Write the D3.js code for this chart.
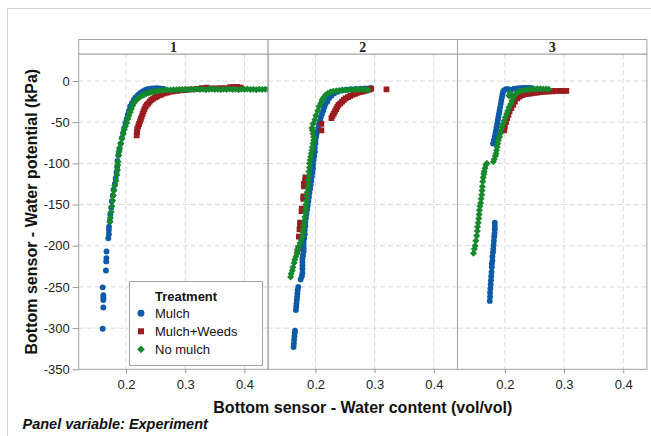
<!DOCTYPE html>
<html><head><meta charset="utf-8">
<script src="https://cdn.jsdelivr.net/npm/d3@7"></script>
<style>body{margin:0;background:#fff}</style>
</head><body>
<svg id="chart" width="651" height="436"></svg>
<script>
// ---------- DATA ----------
const panels = ["1", "2", "3"];
const treatments = ["Mulch", "Mulch+Weeds", "No mulch"];
const yTicks = [0, -50, -100, -150, -200, -250, -300, -350];
const xTicks = [0.2, 0.3, 0.4];
const xTickLabels = ["0.2", "0.3", "0.4"];

// Panel 1
const p1Mulch = [[0.1605,-300.7],[0.1616,-275],[0.1616,-266],[0.1618,-263],[0.1616,-260],[0.1605,-250.5],[0.166,-230],[0.1665,-219],[0.1668,-215],[0.167,-207],[0.170,-191],[0.171,-186],[0.171,-181],[0.1712,-177],[0.1725,-170],[0.1735,-162],[0.175,-154],[0.176,-146],[0.1775,-139],[0.179,-132],[0.181,-125],[0.1825,-118],[0.184,-111],[0.185,-104],[0.1855,-97],[0.187,-90],[0.189,-83],[0.191,-76],[0.193,-69],[0.195,-63],[0.197,-57],[0.199,-51],[0.201,-46],[0.203,-41],[0.205,-36],[0.207,-31],[0.21,-27],[0.213,-23],[0.216,-20],[0.22,-17],[0.224,-14.5],[0.228,-12.5],[0.232,-11],[0.236,-10],[0.24,-9.5],[0.244,-9],[0.248,-9],[0.252,-8.8],[0.256,-9],[0.26,-9.2],[0.264,-9.5]];
const p1Weeds = [[0.218,-66],[0.2185,-62],[0.219,-58],[0.2205,-55],[0.222,-52],[0.2235,-49],[0.225,-46],[0.2265,-43],[0.228,-40],[0.2295,-37],[0.231,-34],[0.233,-31],[0.235,-29],[0.2375,-27],[0.24,-25],[0.243,-23],[0.246,-21.5],[0.249,-20],[0.252,-19],[0.256,-17.5],[0.26,-16.5],[0.265,-15],[0.27,-14],[0.275,-13],[0.28,-12.5],[0.286,-12],[0.292,-11.5],[0.298,-11],[0.305,-10.5],[0.312,-10],[0.32,-9.5],[0.328,-8.5],[0.336,-8],[0.344,-9],[0.352,-8.8],[0.36,-8.5],[0.368,-8.5],[0.376,-7.5],[0.382,-7],[0.388,-7],[0.394,-8]];
const p1NoMulch = [[0.1729,-171],[0.1735,-166],[0.1746,-159],[0.176,-152],[0.1774,-145],[0.1785,-139],[0.1796,-133],[0.181,-127],[0.183,-121],[0.1845,-114],[0.1855,-108],[0.186,-102],[0.1865,-98],[0.1876,-90],[0.188,-86],[0.189,-81],[0.191,-76],[0.193,-70],[0.1953,-64],[0.197,-59],[0.199,-55],[0.201,-51],[0.203,-46],[0.205,-42],[0.207,-38],[0.209,-34],[0.211,-30],[0.213,-27],[0.216,-24],[0.219,-22],[0.222,-20],[0.226,-18],[0.23,-17],[0.234,-15.5],[0.238,-14.5],[0.242,-13.5],[0.246,-13],[0.25,-12.5],[0.255,-12],[0.26,-11.5],[0.265,-11],[0.27,-11],[0.275,-10.8],[0.28,-10.5],[0.285,-10.5],[0.29,-10.3],[0.295,-10.2],[0.3,-10],[0.305,-10.5],[0.31,-10],[0.315,-10.4],[0.32,-9.8],[0.325,-10.3],[0.33,-10],[0.335,-10.6],[0.34,-10],[0.345,-9.6],[0.35,-10.4],[0.355,-10],[0.36,-10.6],[0.365,-10],[0.37,-10.3],[0.375,-9.8],[0.38,-10.4],[0.385,-10],[0.39,-10.6],[0.395,-10.1],[0.4,-10.4],[0.405,-9.8],[0.41,-10.3],[0.415,-10],[0.42,-10.5],[0.425,-10.1],[0.43,-10.4],[0.435,-10],[0.44,-10.3]];

// Panel 2
const p2Mulch = [[0.163,-323],[0.1635,-319],[0.164,-314],[0.1645,-310],[0.165,-306],[0.1655,-303],[0.167,-278],[0.1675,-274],[0.168,-270],[0.1685,-266],[0.169,-262],[0.1695,-258],[0.170,-254],[0.171,-250],[0.175,-241],[0.177,-237],[0.178,-233],[0.178,-228],[0.178,-224],[0.178,-220],[0.178,-216],[0.179,-212],[0.18,-207],[0.18,-203],[0.18,-199],[0.18,-195],[0.181,-191],[0.182,-186],[0.182,-181],[0.183,-176],[0.183,-171],[0.184,-166],[0.185,-161],[0.186,-156],[0.187,-151],[0.188,-146],[0.189,-141],[0.19,-136],[0.191,-131],[0.192,-126],[0.193,-121],[0.194,-116],[0.195,-111],[0.196,-106],[0.196,-101],[0.197,-96],[0.198,-91],[0.199,-86],[0.199,-81],[0.2,-76],[0.2,-72],[0.201,-68],[0.202,-64],[0.204,-60],[0.205,-56],[0.206,-52],[0.208,-48],[0.209,-44],[0.211,-40],[0.213,-36],[0.215,-32],[0.217,-28],[0.22,-25],[0.223,-21],[0.227,-18],[0.232,-15],[0.238,-13],[0.245,-11.5],[0.252,-10.5],[0.26,-10],[0.268,-9.5],[0.276,-9.3],[0.284,-9],[0.29,-9],[0.294,-8.5]];
const p2Weeds = [[0.21,-52],[0.21,-60],[0.183,-117],[0.1825,-121],[0.1805,-125],[0.1805,-128],[0.1795,-140],[0.1795,-143],[0.177,-155],[0.1765,-158],[0.174,-172],[0.174,-176],[0.173,-180],[0.172,-189],[0.171,-203],[0.1695,-207],[0.227,-45],[0.229,-42],[0.231,-39.5],[0.233,-37],[0.235,-34],[0.237,-31.5],[0.239,-29],[0.242,-27],[0.245,-25],[0.248,-23],[0.251,-21],[0.255,-19.5],[0.259,-18],[0.263,-16.5],[0.267,-15.5],[0.271,-14.5],[0.275,-13.5],[0.279,-13],[0.283,-12],[0.287,-11.5],[0.291,-10.5],[0.294,-9.5],[0.32,-10]];
const p2NoMulch = [[0.158,-238],[0.159,-234],[0.161,-230],[0.162,-226],[0.164,-221],[0.165,-217],[0.167,-213],[0.169,-209],[0.17,-205],[0.172,-201],[0.174,-197],[0.176,-193],[0.178,-189],[0.179,-184],[0.179,-180],[0.18,-175],[0.181,-170],[0.182,-165],[0.183,-160],[0.1835,-155],[0.184,-150],[0.185,-145],[0.1855,-140],[0.186,-135],[0.187,-130],[0.188,-125],[0.188,-120],[0.189,-115],[0.189,-110],[0.19,-105],[0.19,-100],[0.191,-96],[0.192,-92],[0.193,-88],[0.194,-84],[0.195,-80],[0.196,-76],[0.197,-72],[0.197,-68],[0.196,-64],[0.195,-60],[0.194,-57],[0.196,-52],[0.199,-47],[0.201,-42],[0.204,-36],[0.206,-31],[0.209,-27],[0.211,-23],[0.214,-20],[0.217,-17],[0.221,-15],[0.225,-13.5],[0.23,-12.5],[0.235,-12],[0.24,-11.5],[0.245,-11],[0.25,-11],[0.255,-10.8],[0.26,-10.5],[0.265,-10.5],[0.27,-10.3],[0.275,-10.3],[0.28,-10],[0.285,-10.5],[0.289,-11]];

// Panel 3
const p3Mulch = [[0.183,-172],[0.183,-176],[0.183,-180],[0.1825,-185],[0.182,-189],[0.1815,-194],[0.181,-199],[0.1805,-204],[0.18,-208],[0.179,-213],[0.179,-218],[0.178,-222],[0.178,-226],[0.1775,-232],[0.177,-237],[0.1765,-242],[0.176,-247],[0.1755,-252],[0.175,-257],[0.175,-262],[0.1745,-267],[0.18,-76],[0.1815,-72],[0.183,-68],[0.184,-64],[0.185,-60],[0.186,-56],[0.187,-52],[0.188,-48],[0.189,-44],[0.19,-40],[0.191,-36],[0.192,-32],[0.193,-28],[0.194,-24],[0.195,-20],[0.196,-16],[0.197,-13],[0.199,-11],[0.202,-10],[0.205,-10],[0.208,-10.5],[0.21,-11],[0.215,-9.5],[0.22,-9],[0.225,-8.8],[0.23,-8.5],[0.235,-8.5],[0.24,-8.5],[0.245,-8.5]];
const p3Weeds = [[0.199,-60],[0.2,-55],[0.202,-50],[0.204,-45],[0.206,-41],[0.208,-37],[0.211,-33],[0.214,-29],[0.217,-25],[0.221,-21],[0.225,-19],[0.23,-17],[0.235,-16],[0.24,-15.5],[0.245,-15],[0.25,-14.5],[0.255,-14],[0.26,-13.5],[0.265,-13],[0.27,-13],[0.275,-12.5],[0.28,-12.5],[0.285,-12],[0.29,-12],[0.295,-12],[0.3,-12],[0.304,-12]];
const p3NoMulch = [[0.147,-209],[0.1485,-204],[0.1497,-200],[0.151,-194],[0.1526,-188],[0.1535,-182],[0.154,-177],[0.155,-172],[0.156,-167],[0.1565,-162],[0.157,-157],[0.158,-152],[0.159,-148],[0.16,-143],[0.161,-138],[0.1615,-133],[0.162,-128],[0.1627,-122],[0.1635,-117],[0.1645,-113],[0.165,-110],[0.1665,-106],[0.168,-102],[0.1695,-100],[0.1806,-98],[0.182,-95],[0.184,-91],[0.185,-88],[0.186,-84],[0.187,-80],[0.188,-76],[0.189,-72],[0.191,-68],[0.192,-64],[0.194,-60],[0.195,-56],[0.197,-52],[0.199,-48],[0.201,-44],[0.203,-40],[0.205,-36],[0.207,-32],[0.21,-28],[0.212,-24],[0.214,-20],[0.207,-18],[0.209,-15],[0.217,-17],[0.221,-14],[0.225,-12.5],[0.23,-11.5],[0.235,-11],[0.24,-10.5],[0.245,-10],[0.25,-9.7],[0.255,-9.5],[0.26,-9.5],[0.265,-9.7],[0.27,-9.7],[0.274,-10]];

const panelData = [
  [p1Mulch, p1Weeds, p1NoMulch],
  [p2Mulch, p2Weeds, p2NoMulch],
  [p3Mulch, p3Weeds, p3NoMulch]
];
const colors = ["#0d5aa8", "#9b1b1e", "#15892b"];

// ---------- LAYOUT ----------
const svg = d3.select("#chart");
const plotLeft = 78.7, panelW = 189.4, plotTop = 54, plotBottom = 369.3, stripTop = 39.5;
const y = d3.scaleLinear().domain([-350, 32.8]).range([plotBottom, plotTop]);
const FONT = "'Liberation Sans', Arial, sans-serif";

svg.append("rect").attr("x", 7.5).attr("y", 8.5).attr("width", 700).attr("height", 500)
  .attr("fill", "none").attr("stroke", "#d4d4d4");

const symbols = [
  d3.symbol().type(d3.symbolCircle).size(27)(),
  d3.symbol().type(d3.symbolSquare).size(33)(),
  d3.symbol().type(d3.symbolSquare).size(25)()
];
const legendSymbols = [
  d3.symbol().type(d3.symbolCircle).size(38)(),
  d3.symbol().type(d3.symbolSquare).size(36)(),
  d3.symbol().type(d3.symbolSquare).size(30)()
];
const rotations = [0, 0, 45];

panels.forEach((p, i) => {
  const L = plotLeft + i * panelW;
  const x = d3.scaleLinear().domain([0.12, 0.44]).range([L, L + panelW]);
  const g = svg.append("g");

  // grid
  g.selectAll(".hg").data(yTicks.filter(t => t > -350)).join("line")
    .attr("x1", L).attr("x2", L + panelW).attr("y1", d => y(d)).attr("y2", d => y(d))
    .attr("stroke", "#d9d9d9").attr("stroke-dasharray", "5,3");
  g.selectAll(".vg").data(xTicks).join("line")
    .attr("x1", d => x(d)).attr("x2", d => x(d)).attr("y1", plotTop).attr("y2", plotBottom)
    .attr("stroke", "#d9d9d9").attr("stroke-dasharray", "5,3");

  // clip
  const cid = "clip" + i;
  svg.append("clipPath").attr("id", cid).append("rect")
    .attr("x", L).attr("y", plotTop).attr("width", panelW).attr("height", plotBottom - plotTop);

  const dg = g.append("g").attr("clip-path", `url(#${cid})`);
  panelData[i].forEach((series, k) => {
    dg.append("g").selectAll("path").data(series).join("path")
      .attr("d", symbols[k])
      .attr("transform", d => `translate(${x(d[0])},${y(d[1])}) rotate(${rotations[k]})`)
      .attr("fill", colors[k]);
  });

  // panel border
  g.append("rect").attr("x", L).attr("y", plotTop).attr("width", panelW).attr("height", plotBottom - plotTop)
    .attr("fill", "none").attr("stroke", "#a3a3a3");
  // strip
  g.append("rect").attr("x", L).attr("y", stripTop).attr("width", panelW).attr("height", plotTop - stripTop)
    .attr("fill", "#fff").attr("stroke", "#a3a3a3");
  g.append("text").attr("x", L + panelW / 2).attr("y", 52)
    .attr("text-anchor", "middle").attr("font-family", "'Liberation Serif', 'Times New Roman', serif")
    .attr("font-weight", "bold").attr("font-size", 14).attr("fill", "#222").text(p);

  // x axis
  const xa = g.append("g").attr("transform", `translate(0,${plotBottom})`)
    .call(d3.axisBottom(x).tickValues(xTicks).tickSize(4).tickPadding(6)
      .tickFormat((d, j) => xTickLabels[j]));
  xa.select(".domain").remove();
  xa.selectAll("line").attr("stroke", "#999");
  xa.selectAll("text").attr("font-family", FONT).attr("font-size", 13).attr("fill", "#222");
});

// y axis
const ya = svg.append("g").attr("transform", `translate(${plotLeft},0)`)
  .call(d3.axisLeft(y).tickValues(yTicks).tickSize(6).tickPadding(3).tickFormat(d => String(d)));
ya.select(".domain").remove();
ya.selectAll("line").attr("stroke", "#999");
ya.selectAll("text").attr("font-family", FONT).attr("font-size", 13).attr("fill", "#222");

// titles
svg.append("text").attr("x", plotLeft + 1.5 * panelW).attr("y", 413).attr("text-anchor", "middle")
  .attr("font-family", FONT).attr("font-weight", "bold").attr("font-size", 16).attr("fill", "#111")
  .text("Bottom sensor - Water content (vol/vol)");
svg.append("text").attr("transform", `translate(37,${(plotTop + plotBottom) / 2}) rotate(-90)`)
  .attr("text-anchor", "middle")
  .attr("font-family", FONT).attr("font-weight", "bold").attr("font-size", 16).attr("fill", "#111")
  .text("Bottom sensor - Water potential (kPa)");
svg.append("text").attr("x", 22.5).attr("y", 429)
  .attr("font-family", FONT).attr("font-weight", "bold").attr("font-style", "italic").attr("font-size", 14.5).attr("fill", "#111")
  .text("Panel variable: Experiment");

// legend
const lg = svg.append("g");
lg.append("rect").attr("x", 129.5).attr("y", 281.5).attr("width", 133).attr("height", 84)
  .attr("fill", "#fff").attr("stroke", "#a3a3a3");
lg.append("text").attr("x", 155).attr("y", 300.5).attr("font-family", FONT).attr("font-weight", "bold")
  .attr("font-size", 13).attr("fill", "#111").text("Treatment");
treatments.forEach((t, k) => {
  const cy = 313.3 + k * 18;
  lg.append("path").attr("d", legendSymbols[k])
    .attr("transform", `translate(141,${cy}) rotate(${rotations[k]})`).attr("fill", colors[k]);
  lg.append("text").attr("x", 155).attr("y", cy + 4.7).attr("font-family", FONT)
    .attr("font-size", 13).attr("fill", "#111").text(t);
});
</script>
</body></html>
